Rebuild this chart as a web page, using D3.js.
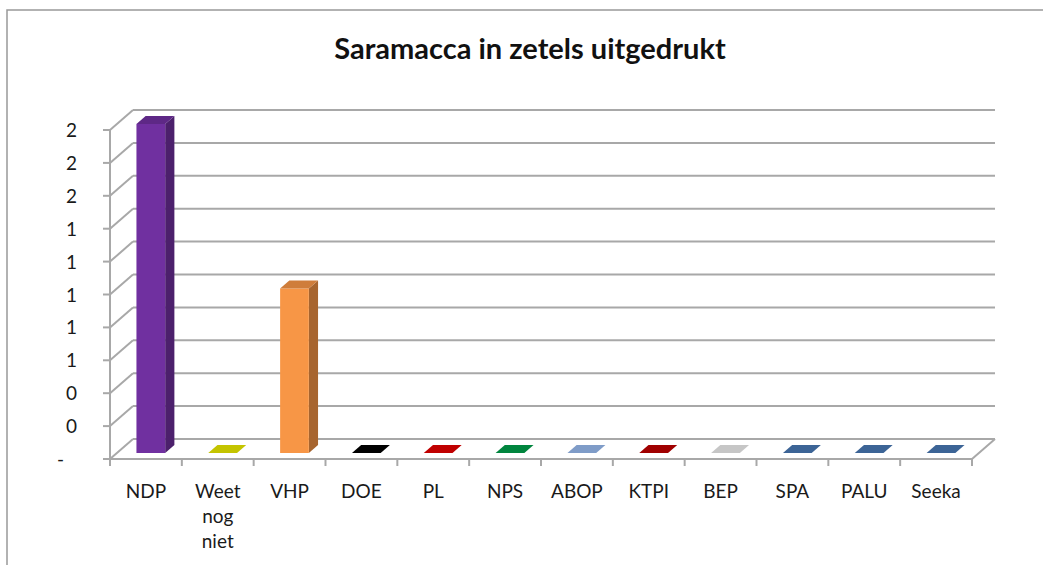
<!DOCTYPE html>
<html lang="nl">
<head>
    <meta charset="UTF-8">
    <title>Saramacca in zetels uitgedrukt</title>
    <script src="https://d3js.org/d3.v7.min.js"></script>
    <style>
        body {
            margin: 0;
            padding: 0;
            background: #fff;
            font-family: Lato, "Liberation Sans", sans-serif;
        }
        svg { display: block; }
    </style>
</head>
<body>
    <svg width="1043" height="565"></svg>
    <script>
        // Data
        const categories = ["NDP", "Weet nog niet", "VHP", "DOE", "PL", "NPS", "ABOP", "KTPI", "BEP", "SPA", "PALU", "Seeka"];
        const seats = [2, 0, 1, 0, 0, 0, 0, 0, 0, 0, 0, 0];
        const barColors = ["#7030a0", "#c4c400", "#f79646", "#000000", "#c00000", "#00853e", "#7f9cc8", "#a00000", "#c6c6c6", "#3c6496", "#3c6496", "#3c6496"];
        const yTicks = [0, 0.2, 0.4, 0.6, 0.8, 1.0, 1.2, 1.4, 1.6, 1.8, 2.0];
        const yTickLabels = ["-", "0", "0", "1", "1", "1", "1", "1", "2", "2", "2"];

        const svg = d3.select("svg");

        // chart frame
        svg.append("rect")
            .attr("x", 7).attr("y", 10)
            .attr("width", 1100).attr("height", 600)
            .attr("fill", "none")
            .attr("stroke", "#999")
            .attr("stroke-width", 1.5);

        svg.append("text")
            .attr("x", 530).attr("y", 59)
            .attr("text-anchor", "middle")
            .style("font-family", "Lato, sans-serif")
            .style("font-weight", "bold")
            .style("font-size", "29px")
            .attr("fill", "#111")
            .text("Saramacca in zetels uitgedrukt");

        // 3D depth offset (front -> back)
        const DX = 23, DY = -20;

        const x = d3.scaleBand()
            .domain(categories)
            .range([110, 972])
            .padding(0);

        const y = d3.scaleLinear()
            .domain([0, 2])
            .range([459, 130]);

        const gridColor = "#a8a8a8";
        const walls = svg.append("g")
            .attr("fill", "none")
            .attr("stroke", gridColor)
            .attr("stroke-width", 2);

        // back wall gridlines
        walls.selectAll(".grid")
            .data(yTicks)
            .enter().append("line")
            .attr("x1", x.range()[0] + DX)
            .attr("x2", x.range()[1] + DX)
            .attr("y1", d => y(d) + DY)
            .attr("y2", d => y(d) + DY);

        // side wall diagonals
        walls.selectAll(".diag")
            .data(yTicks)
            .enter().append("line")
            .attr("x1", x.range()[0])
            .attr("x2", x.range()[0] + DX)
            .attr("y1", d => y(d))
            .attr("y2", d => y(d) + DY);

        // floor right diagonal
        walls.append("line")
            .attr("x1", x.range()[1]).attr("y1", y(0))
            .attr("x2", x.range()[1] + DX).attr("y2", y(0) + DY);

        // value axis
        walls.append("line")
            .attr("x1", x.range()[0]).attr("x2", x.range()[0])
            .attr("y1", y(0)).attr("y2", y(2));
        walls.selectAll(".ytick")
            .data(yTicks)
            .enter().append("line")
            .attr("x1", x.range()[0] - 7).attr("x2", x.range()[0])
            .attr("y1", d => y(d)).attr("y2", d => y(d));

        // category axis
        walls.append("line")
            .attr("x1", x.range()[0]).attr("x2", x.range()[1])
            .attr("y1", y(0)).attr("y2", y(0));
        const bounds = categories.map(c => x(c)).concat([x.range()[1]]);
        walls.selectAll(".xtick")
            .data(bounds)
            .enter().append("line")
            .attr("x1", d => d).attr("x2", d => d)
            .attr("y1", y(0)).attr("y2", y(0) + 7);

        // bars
        const d0 = 0.3, d1 = 0.7;
        const bw = x.bandwidth() * 0.4;
        const pt = (px, py, d) => [px + d * DX, py + d * DY];
        const bars = svg.append("g");
        categories.forEach((c, i) => {
            const v = seats[i];
            const col = d3.color(barColors[i]);
            const xl = x(c) + (x.bandwidth() - bw) / 2 - 2;
            const xr = xl + bw;
            const yb = y(0), yt = y(v);
            const g = bars.append("g");
            if (v > 0) {
                // side
                g.append("polygon")
                    .attr("points", [pt(xr, yb, d0), pt(xr, yt, d0), pt(xr, yt, d1), pt(xr, yb, d1)].join(" "))
                    .attr("fill", col.darker(1.1));
                // front
                const fl = pt(xl, yt, d0);
                g.append("rect")
                    .attr("x", fl[0]).attr("y", fl[1])
                    .attr("width", bw).attr("height", yb - yt)
                    .attr("fill", col);
            }
            // top
            g.append("polygon")
                .attr("points", [pt(xl, yt, d0), pt(xr, yt, d0), pt(xr, yt, d1), pt(xl, yt, d1)].join(" "))
                .attr("fill", v > 0 ? col.darker(0.5) : col);
        });

        // labels
        const labelStyle = sel => sel
            .style("font-family", "Lato, sans-serif")
            .style("font-size", "19px")
            .attr("fill", "#1a1a1a");

        svg.append("g").selectAll("text")
            .data(yTicks)
            .enter().append("text")
            .call(labelStyle)
            .attr("x", (d, i) => yTickLabels[i] === "-" ? 64 : 77)
            .attr("y", d => y(d) + 7)
            .attr("text-anchor", "end")
            .text((d, i) => yTickLabels[i]);

        const xl = svg.append("g").selectAll("text")
            .data(categories)
            .enter().append("text")
            .call(labelStyle)
            .attr("text-anchor", "middle")
            .attr("y", 498);
        xl.each(function (d) {
            const t = d3.select(this);
            const cx = x(d) + x.bandwidth() / 2;
            t.text(d);
            if (this.getComputedTextLength() > x.bandwidth() - 8) {
                t.text(null);
                d.split(" ").forEach((w, k) => {
                    t.append("tspan").attr("x", cx).attr("dy", k ? 25 : 0).text(w);
                });
            } else {
                t.attr("x", cx);
            }
        });
    </script>
</body>
</html>
